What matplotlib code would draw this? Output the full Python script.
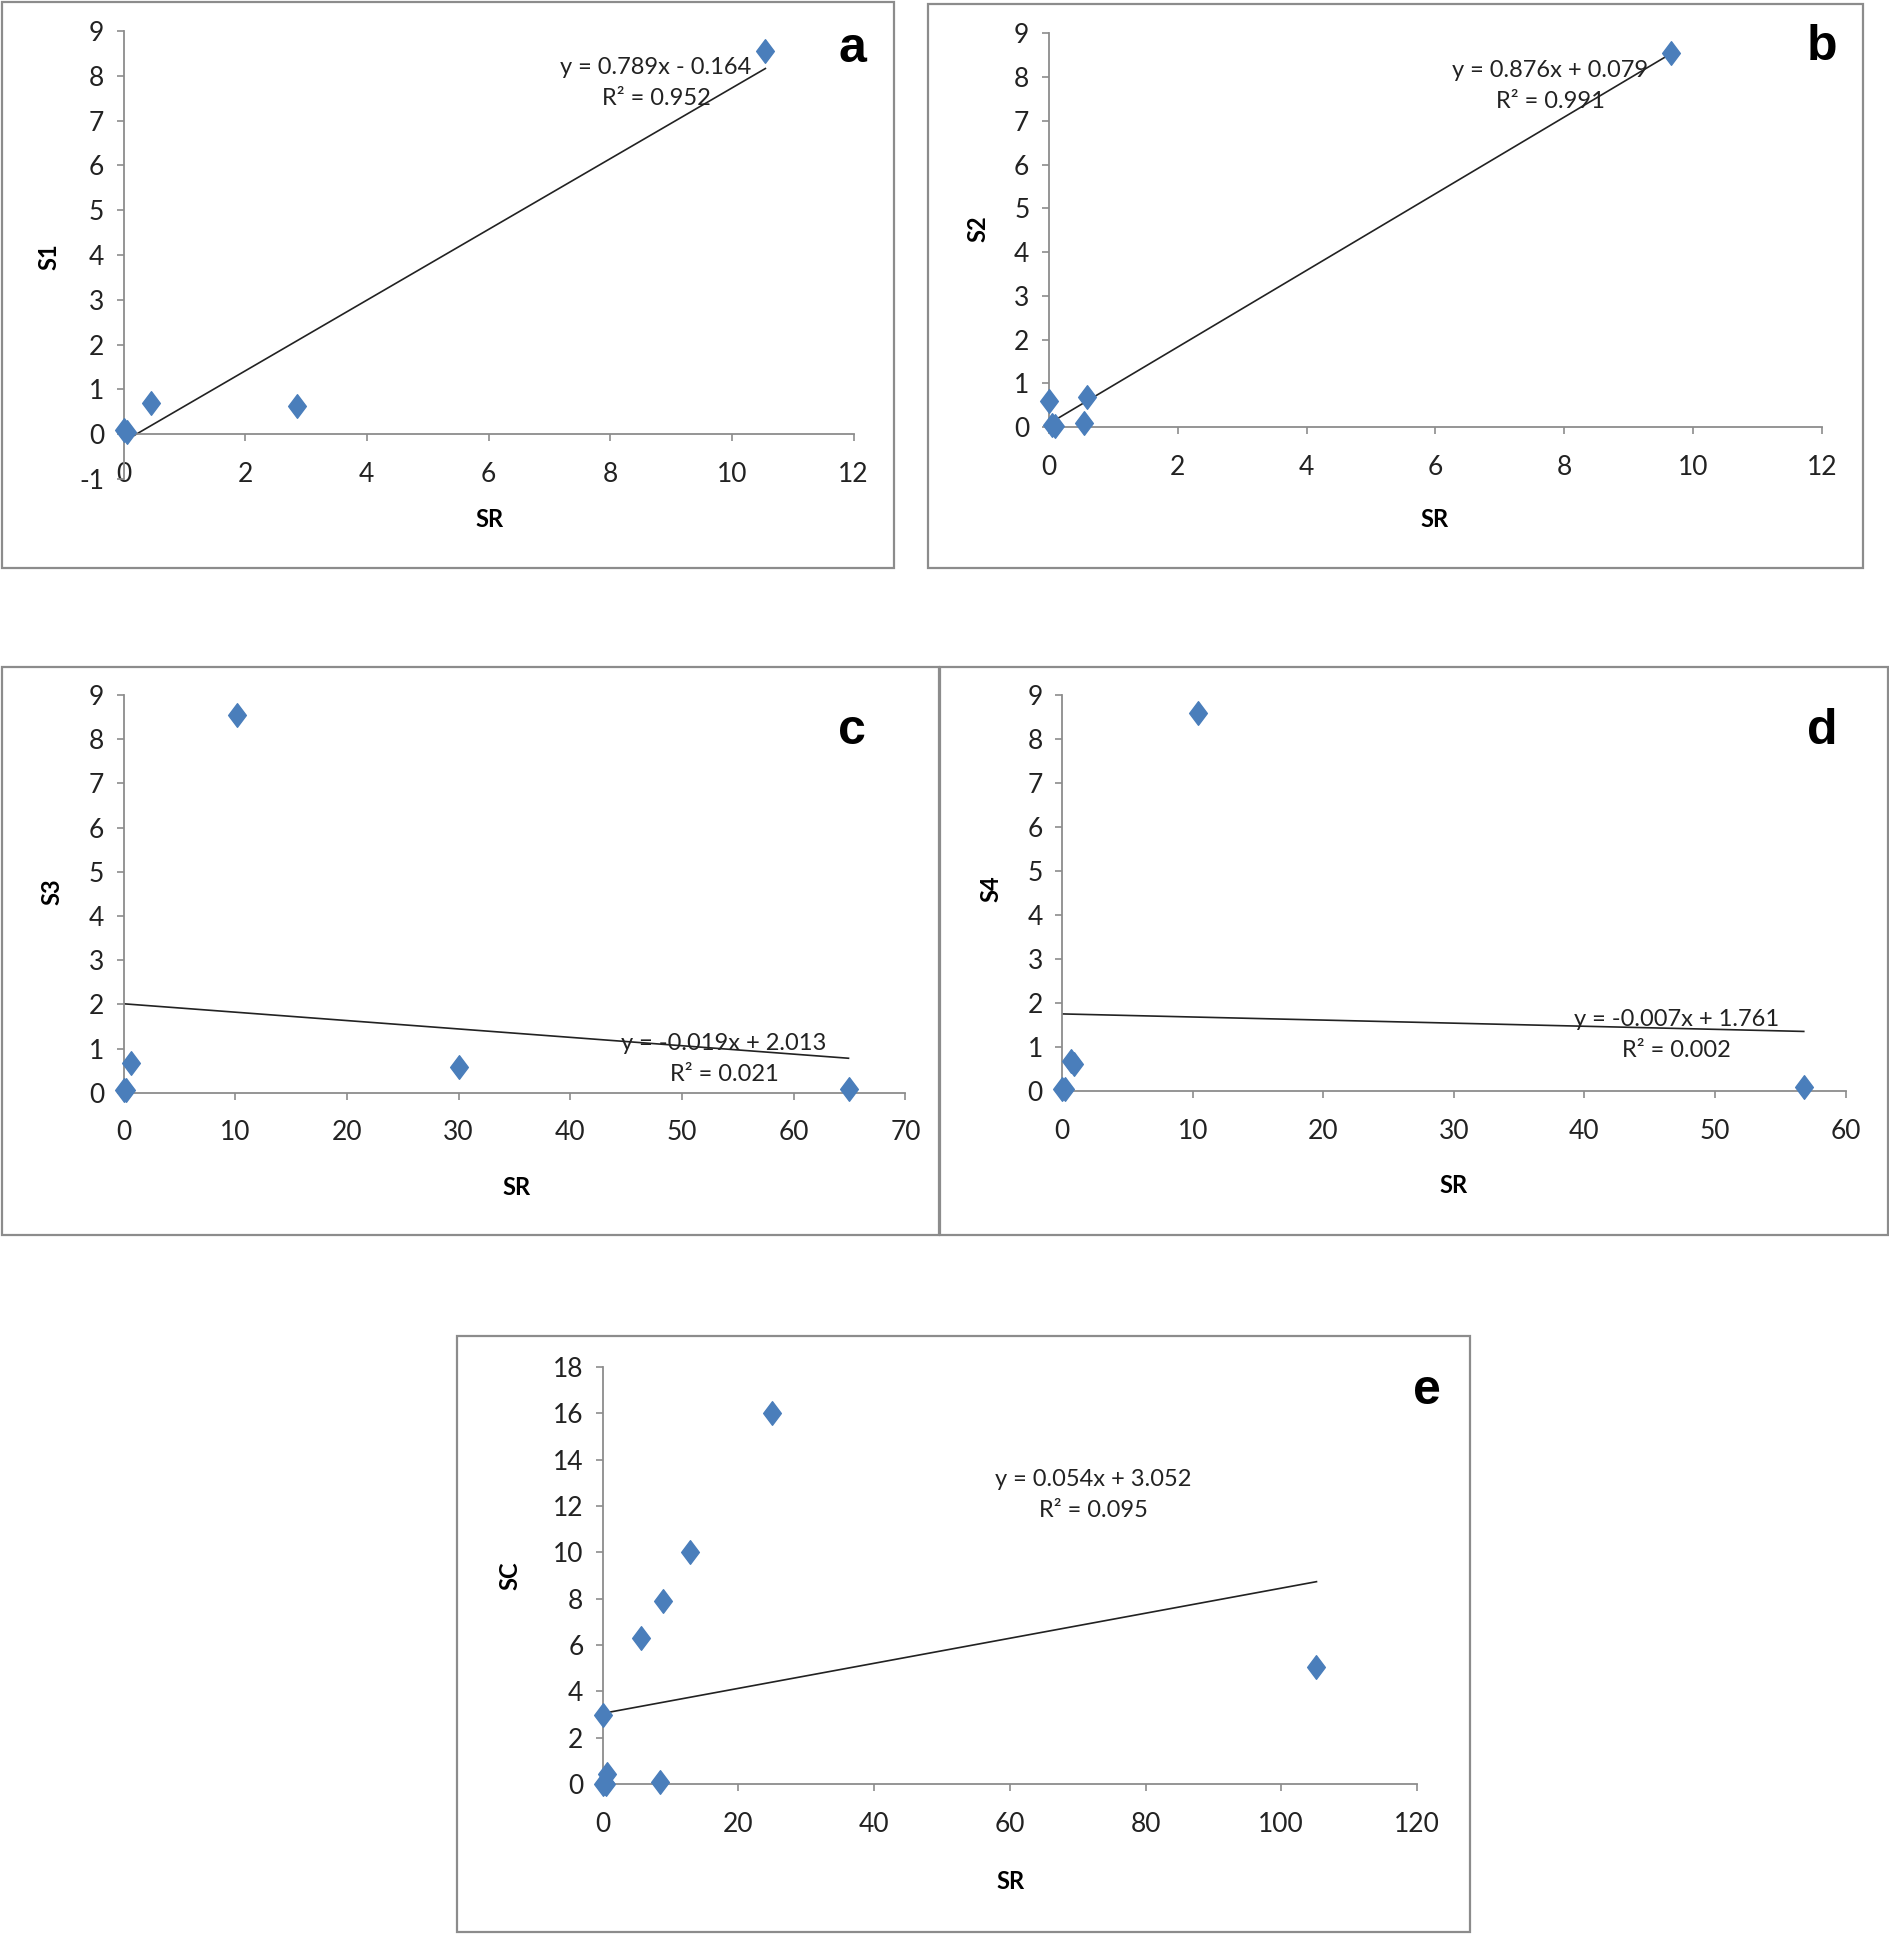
import matplotlib
matplotlib.use("Agg")
import matplotlib.pyplot as plt
import numpy as np
from matplotlib.patches import Rectangle
from matplotlib.path import Path

# data
a_x = [0.0, 0.05, 0.45, 2.85, 10.55]
a_y = [0.1, 0.05, 0.7, 0.62, 8.55]
b_x = [0.0, 0.05, 0.1, 0.55, 0.6, 9.65]
b_y = [0.6, 0.05, 0.02, 0.1, 0.7, 8.55]
c_x = [0.0, 0.2, 0.7, 10.2, 30.0, 64.9]
c_y = [0.05, 0.05, 0.68, 8.55, 0.58, 0.08]
d_x = [0.0, 0.2, 0.7, 0.9, 10.4, 56.8]
d_y = [0.05, 0.05, 0.7, 0.62, 8.6, 0.1]
e_x = [0.0, 0.3, 0.5, 0.0, 0.6, 5.6, 8.9, 8.5, 12.9, 25.0, 105.2]
e_y = [0.0, 0.05, 0.0, 3.0, 0.45, 6.3, 7.9, 0.08, 10.0, 16.0, 5.05]

# trend line coefficients and R² as printed
slopes = [0.789, 0.876, -0.019, -0.007, 0.054]
intercepts = [-0.164, 0.079, 2.013, 1.761, 3.052]
r2 = [0.952, 0.991, 0.021, 0.002, 0.095]
eq_labels = ["y = 0.789x - 0.164", "y = 0.876x + 0.079", "y = -0.019x + 2.013",
             "y = -0.007x + 1.761", "y = 0.054x + 3.052"]
ylabels = ["S1", "S2", "S3", "S4", "SC"]
letters = ["a", "b", "c", "d", "e"]
xlims = [(0, 12), (0, 12), (0, 70), (0, 60), (0, 120)]
ylims = [(-1, 9), (0, 9), (0, 9), (0, 9), (0, 18)]
xsteps = [2, 2, 10, 10, 20]
ysteps = [1, 1, 1, 1, 2]

# layout in reference pixels (1530 x 1568 grid)
W, H = 1530.0, 1568.0
frames = [(2, 2, 724, 460), (751, 3, 1508, 460), (2, 540, 760, 1000),
          (761, 540, 1528, 1000), (370, 1082, 1190, 1565)]
plot_boxes = [(100, 25, 691, 388), (849, 27, 1475, 346), (100, 563, 733, 885),
              (860, 563, 1494, 884), (488, 1107, 1147, 1445)]
xlab_pos = [(396, 421), (1161, 421), (418, 962), (1177, 960), (818, 1524)]
ylab_pos = [(40, 208), (792, 185), (42, 722), (802, 720), (413, 1276)]
letter_pos = [(690, 40), (1475, 38), (690, 592), (1475, 592), (1155, 1127)]
eq_pos = [(531, 55), (1255, 57), (586, 845), (1357, 826), (885, 1198)]

xs = [a_x, b_x, c_x, d_x, e_x]
ys = [a_y, b_y, c_y, d_y, e_y]

plt.rcParams["font.family"] = ["Lato", "DejaVu Sans"]
plt.rcParams["axes.unicode_minus"] = False
BLUE = "#4a7ebb"
GREY = "#8c8c8c"

diamond = Path([(0, 1), (0.75, 0), (0, -1), (-0.75, 0), (0, 1)],
               [Path.MOVETO, Path.LINETO, Path.LINETO, Path.LINETO, Path.CLOSEPOLY])


def fx(px):
    return px / W


def fy(py):
    return 1 - py / H


fig = plt.figure(figsize=(18.9, 19.36), dpi=100)

for i in range(5):
    l, t, r, b = frames[i]
    fig.patches.append(Rectangle((fx(l), fy(b)), fx(r) - fx(l), fy(t) - fy(b),
                                 transform=fig.transFigure, fill=False,
                                 edgecolor=GREY, lw=1.6))

    x0, yt, x1, yb = plot_boxes[i]
    ax = fig.add_axes([fx(x0), fy(yb), fx(x1) - fx(x0), fy(yt) - fy(yb)])
    ax.set_xlim(*xlims[i])
    ax.set_ylim(*ylims[i])
    ax.set_xticks(np.arange(xlims[i][0], xlims[i][1] + 0.1, xsteps[i]))
    ax.set_yticks(np.arange(ylims[i][0], ylims[i][1] + 0.1, ysteps[i]))

    for s in ["top", "right"]:
        ax.spines[s].set_visible(False)
    for s in ["left", "bottom"]:
        ax.spines[s].set_color(GREY)
        ax.spines[s].set_linewidth(1.3)
    ax.spines["bottom"].set_position(("data", 0))
    ax.patch.set_alpha(0)

    ax.tick_params(axis="both", direction="out", length=5, width=1.2,
                   color=GREY, labelsize=19, labelcolor="#222222")
    ax.tick_params(axis="x", pad=15)
    ax.tick_params(axis="y", pad=9)

    # trend line
    xmin, xmax = min(xs[i]), max(xs[i])
    ax.plot([xmin, xmax], [slopes[i] * xmin + intercepts[i], slopes[i] * xmax + intercepts[i]],
            color="#222222", lw=1.2, zorder=2)

    ax.plot(xs[i], ys[i], linestyle="none", marker=diamond, ms=17,
            color=BLUE, clip_on=False, zorder=3)

    ax.set_xlabel("SR", fontsize=17, fontweight="bold")
    ax.set_ylabel(ylabels[i], fontsize=17, fontweight="bold")
    ax.xaxis.set_label_coords(fx(xlab_pos[i][0]), fy(xlab_pos[i][1]), transform=fig.transFigure)
    ax.yaxis.set_label_coords(fx(ylab_pos[i][0]), fy(ylab_pos[i][1]), transform=fig.transFigure)
    ax.xaxis.label.set_va("center")
    ax.yaxis.label.set_va("center")

    ex, ey = eq_pos[i]
    fig.text(fx(ex), fy(ey), eq_labels[i], fontsize=17, ha="center", va="center",
             color="#222222")
    fig.text(fx(ex), fy(ey + 25), "R² = %.3f" % r2[i], fontsize=17, ha="center",
             va="center", color="#222222")

    lx, ly = letter_pos[i]
    fig.text(fx(lx), fy(ly), letters[i], fontsize=36, fontweight="bold",
             ha="center", va="center", family=["Liberation Sans", "DejaVu Sans"])

fig.savefig("out.png", dpi=100, facecolor="white")
